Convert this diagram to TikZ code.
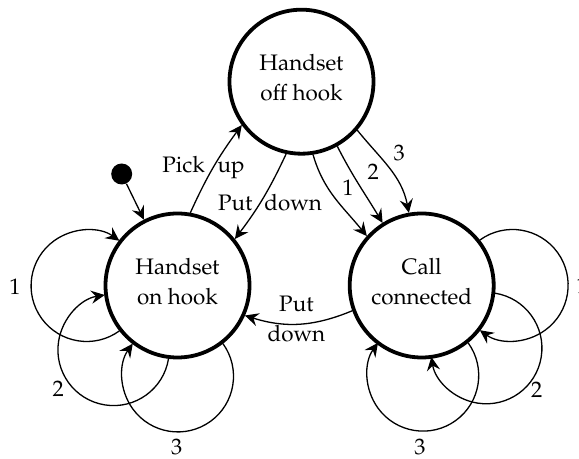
\documentclass[tikz,border=0pt]{standalone}
\usepackage[T1]{fontenc}
\usepackage{mathpazo}
\usetikzlibrary{arrows.meta}
\begin{document}
\begin{tikzpicture}[x=0.5pt,y=0.5pt,
  txt/.style={font=\fontsize{11.2}{15}\selectfont},
  state/.style={txt, circle, draw, line width=1.9pt, minimum size=72pt, inner sep=0pt, outer sep=0.9pt, align=center, text depth=4pt},
  edge/.style={line width=0.65pt, -{Stealth[length=6.8pt,width=6.6pt,inset=2.4pt]}},
  lab/.style={txt, inner sep=0pt},
  startdot/.style={circle, fill, minimum size=10.5pt, inner sep=0pt}]
\useasboundingbox (0,0) rectangle (579,459);
% states
\node[state] (A) at (177.5,173.5) {Handset\\on hook};
\node[state] (B) at (301.5,377.3) {Handset\\off hook};
\node[state] (C) at (421.7,173.5) {Call\\connected};
\node[startdot] (init) at (121.7,285) {};
% initial
\draw[edge] (init) -- (A.117.8);
% transitions between states
\draw[edge] (A.80.4) to[bend left=6] node[lab, pos=0.5, xshift=-4.95pt] {Pick\hspace{6.5pt}up} (B.216.4);
\draw[edge] (B.258) to[bend left=6] node[lab, pos=0.5, xshift=3.45pt, yshift=-2.25pt] {Put\hspace{6pt}down} (A.39.4);
\draw[edge] (B.279.2) to[out=-74, in=129] node[lab, pos=0.5, xshift=6.55pt, yshift=5.1pt] {1} (C.138.1);
\draw[edge] (B.299.1) to[out=-63, in=121] node[lab, pos=0.5, xshift=7pt, yshift=6.6pt] {2} (C.122.1);
\draw[edge] (B.319.6) to[out=-51, in=101] node[lab, pos=0.5, xshift=5pt, yshift=7.75pt] {3} (C.100.3);
\draw[edge] (C.200.8) to[bend left=20] node[lab, pos=0.5, align=center, xshift=-1.35pt, yshift=2.45pt] {Put\\down} (A.-24.5);
% self loops on A
\draw[edge] (A.218.2) arc[start angle=305.9, end angle=54.1, radius=55.65];
\draw[edge] (A.263.2) arc[start angle=350.9, end angle=99.1, radius=55.65];
\draw[edge] (A.308.2) arc[start angle=35.9, end angle=-215.9, radius=55.65];
% self loops on C
\draw[edge] (C.38.2) arc[start angle=125.9, end angle=-125.9, radius=55.65];
\draw[edge] (C.-6.8) arc[start angle=80.9, end angle=-170.9, radius=55.65];
\draw[edge] (C.-51.8) arc[start angle=35.9, end angle=-215.9, radius=55.65];
% loop labels
\node[lab] (la1) at (15,172.3) {1};
\node[lab] (la2) at (58.3,70.7) {2};
\node[lab] (la3) at (176.7,12.3) {3};
\node[lab] (lc1) at (582,173) {1};
\node[lab] (lc2) at (536.7,69) {2};
\node[lab] (lc3) at (420,12.3) {3};
\end{tikzpicture}
\end{document}
